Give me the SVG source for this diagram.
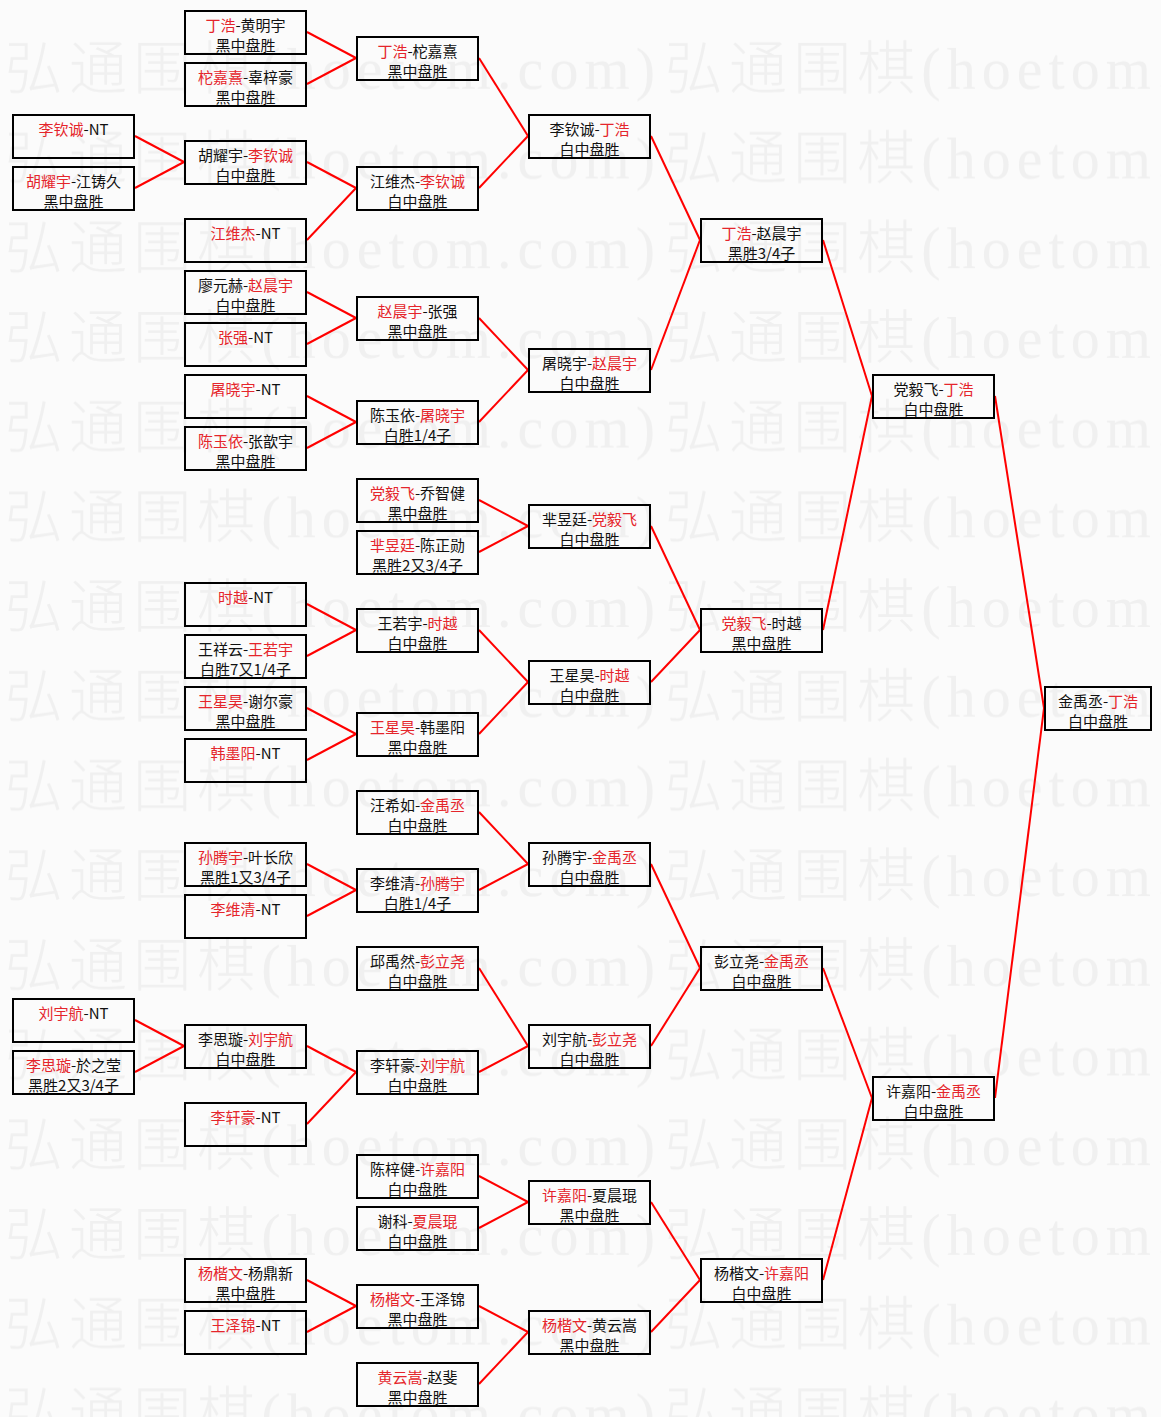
<svg xmlns="http://www.w3.org/2000/svg" width="1161" height="1417" viewBox="0 0 1161 1417">
<style>
.w{font-family:"Liberation Serif","Noto Sans CJK SC",serif;font-size:58px;fill:#f0f0f0;font-weight:300}
.b{fill:none;stroke:#000;stroke-width:2}
.t{font-family:"Noto Sans CJK SC","Liberation Sans",sans-serif;font-size:15px;fill:#111;text-anchor:middle}
.r{fill:#e5252b}
.c line{stroke:#f00;stroke-width:2}
</style>
<defs>
<pattern id="wm" patternUnits="userSpaceOnUse" x="0" y="15" width="660" height="89.7">
<rect x="0" y="0" width="660" height="89.7" fill="#fbfbfb"/>
<text class="w" x="5" y="74" textLength="650" lengthAdjust="spacing">弘通围棋(hoetom.com)</text>
</pattern>
</defs>
<rect x="0" y="0" width="1161" height="1417" fill="#fbfbfb"/>
<rect id="watermark" x="0" y="15" width="1161" height="1402" fill="url(#wm)"/>
<g id="connectors" class="c">
<line x1="307" y1="32" x2="356" y2="58"/>
<line x1="307" y1="84" x2="356" y2="58"/>
<line x1="135" y1="136" x2="184" y2="162"/>
<line x1="135" y1="188" x2="184" y2="162"/>
<line x1="307" y1="162" x2="356" y2="188"/>
<line x1="307" y1="240" x2="356" y2="188"/>
<line x1="479" y1="58" x2="528" y2="136"/>
<line x1="479" y1="188" x2="528" y2="136"/>
<line x1="307" y1="292" x2="356" y2="318"/>
<line x1="307" y1="344" x2="356" y2="318"/>
<line x1="307" y1="396" x2="356" y2="422"/>
<line x1="307" y1="448" x2="356" y2="422"/>
<line x1="479" y1="318" x2="528" y2="370"/>
<line x1="479" y1="422" x2="528" y2="370"/>
<line x1="651" y1="136" x2="700" y2="240"/>
<line x1="651" y1="370" x2="700" y2="240"/>
<line x1="479" y1="500" x2="528" y2="526"/>
<line x1="479" y1="552" x2="528" y2="526"/>
<line x1="307" y1="604" x2="356" y2="630"/>
<line x1="307" y1="656" x2="356" y2="630"/>
<line x1="307" y1="708" x2="356" y2="734"/>
<line x1="307" y1="760" x2="356" y2="734"/>
<line x1="479" y1="630" x2="528" y2="682"/>
<line x1="479" y1="734" x2="528" y2="682"/>
<line x1="651" y1="526" x2="700" y2="630"/>
<line x1="651" y1="682" x2="700" y2="630"/>
<line x1="823" y1="240" x2="872" y2="396"/>
<line x1="823" y1="630" x2="872" y2="396"/>
<line x1="307" y1="864" x2="356" y2="890"/>
<line x1="307" y1="916" x2="356" y2="890"/>
<line x1="479" y1="812" x2="528" y2="864"/>
<line x1="479" y1="890" x2="528" y2="864"/>
<line x1="135" y1="1020" x2="184" y2="1046"/>
<line x1="135" y1="1072" x2="184" y2="1046"/>
<line x1="307" y1="1046" x2="356" y2="1072"/>
<line x1="307" y1="1124" x2="356" y2="1072"/>
<line x1="479" y1="968" x2="528" y2="1046"/>
<line x1="479" y1="1072" x2="528" y2="1046"/>
<line x1="651" y1="864" x2="700" y2="968"/>
<line x1="651" y1="1046" x2="700" y2="968"/>
<line x1="479" y1="1176" x2="528" y2="1202"/>
<line x1="479" y1="1228" x2="528" y2="1202"/>
<line x1="307" y1="1280" x2="356" y2="1306"/>
<line x1="307" y1="1332" x2="356" y2="1306"/>
<line x1="479" y1="1306" x2="528" y2="1332"/>
<line x1="479" y1="1384" x2="528" y2="1332"/>
<line x1="651" y1="1202" x2="700" y2="1280"/>
<line x1="651" y1="1332" x2="700" y2="1280"/>
<line x1="823" y1="968" x2="872" y2="1098"/>
<line x1="823" y1="1280" x2="872" y2="1098"/>
<line x1="995" y1="396" x2="1044" y2="708"/>
<line x1="995" y1="1098" x2="1044" y2="708"/>
</g>
<!-- column 0 -->
<g id="c0-n4"><rect class="b" x="13" y="115" width="121" height="43"/><text class="t" x="73.5" y="135"><tspan class="r">李钦诚</tspan>-NT</text></g>
<g id="c0-n6"><rect class="b" x="13" y="167" width="121" height="43"/><text class="t" x="73.5" y="187"><tspan class="r">胡耀宇</tspan>-江铸久</text><text class="t" x="73.5" y="207">黑中盘胜</text></g>
<g id="c0-n38"><rect class="b" x="13" y="999" width="121" height="43"/><text class="t" x="73.5" y="1019"><tspan class="r">刘宇航</tspan>-NT</text></g>
<g id="c0-n40"><rect class="b" x="13" y="1051" width="121" height="43"/><text class="t" x="73.5" y="1071"><tspan class="r">李思璇</tspan>-於之莹</text><text class="t" x="73.5" y="1091">黑胜2又3/4子</text></g>
<!-- column 1 -->
<g id="c1-n0"><rect class="b" x="185" y="11" width="121" height="43"/><text class="t" x="245.5" y="31"><tspan class="r">丁浩</tspan>-黄明宇</text><text class="t" x="245.5" y="51">黑中盘胜</text></g>
<g id="c1-n2"><rect class="b" x="185" y="63" width="121" height="43"/><text class="t" x="245.5" y="83"><tspan class="r">柁嘉熹</tspan>-辜梓豪</text><text class="t" x="245.5" y="103">黑中盘胜</text></g>
<g id="c1-n5"><rect class="b" x="185" y="141" width="121" height="43"/><text class="t" x="245.5" y="161">胡耀宇-<tspan class="r">李钦诚</tspan></text><text class="t" x="245.5" y="181">白中盘胜</text></g>
<g id="c1-n8"><rect class="b" x="185" y="219" width="121" height="43"/><text class="t" x="245.5" y="239"><tspan class="r">江维杰</tspan>-NT</text></g>
<g id="c1-n10"><rect class="b" x="185" y="271" width="121" height="43"/><text class="t" x="245.5" y="291">廖元赫-<tspan class="r">赵晨宇</tspan></text><text class="t" x="245.5" y="311">白中盘胜</text></g>
<g id="c1-n12"><rect class="b" x="185" y="323" width="121" height="43"/><text class="t" x="245.5" y="343"><tspan class="r">张强</tspan>-NT</text></g>
<g id="c1-n14"><rect class="b" x="185" y="375" width="121" height="43"/><text class="t" x="245.5" y="395"><tspan class="r">屠晓宇</tspan>-NT</text></g>
<g id="c1-n16"><rect class="b" x="185" y="427" width="121" height="43"/><text class="t" x="245.5" y="447"><tspan class="r">陈玉依</tspan>-张歆宇</text><text class="t" x="245.5" y="467">黑中盘胜</text></g>
<g id="c1-n22"><rect class="b" x="185" y="583" width="121" height="43"/><text class="t" x="245.5" y="603"><tspan class="r">时越</tspan>-NT</text></g>
<g id="c1-n24"><rect class="b" x="185" y="635" width="121" height="43"/><text class="t" x="245.5" y="655">王祥云-<tspan class="r">王若宇</tspan></text><text class="t" x="245.5" y="675">白胜7又1/4子</text></g>
<g id="c1-n26"><rect class="b" x="185" y="687" width="121" height="43"/><text class="t" x="245.5" y="707"><tspan class="r">王星昊</tspan>-谢尔豪</text><text class="t" x="245.5" y="727">黑中盘胜</text></g>
<g id="c1-n28"><rect class="b" x="185" y="739" width="121" height="43"/><text class="t" x="245.5" y="759"><tspan class="r">韩墨阳</tspan>-NT</text></g>
<g id="c1-n32"><rect class="b" x="185" y="843" width="121" height="43"/><text class="t" x="245.5" y="863"><tspan class="r">孙腾宇</tspan>-叶长欣</text><text class="t" x="245.5" y="883">黑胜1又3/4子</text></g>
<g id="c1-n34"><rect class="b" x="185" y="895" width="121" height="43"/><text class="t" x="245.5" y="915"><tspan class="r">李维清</tspan>-NT</text></g>
<g id="c1-n39"><rect class="b" x="185" y="1025" width="121" height="43"/><text class="t" x="245.5" y="1045">李思璇-<tspan class="r">刘宇航</tspan></text><text class="t" x="245.5" y="1065">白中盘胜</text></g>
<g id="c1-n42"><rect class="b" x="185" y="1103" width="121" height="43"/><text class="t" x="245.5" y="1123"><tspan class="r">李轩豪</tspan>-NT</text></g>
<g id="c1-n48"><rect class="b" x="185" y="1259" width="121" height="43"/><text class="t" x="245.5" y="1279"><tspan class="r">杨楷文</tspan>-杨鼎新</text><text class="t" x="245.5" y="1299">黑中盘胜</text></g>
<g id="c1-n50"><rect class="b" x="185" y="1311" width="121" height="43"/><text class="t" x="245.5" y="1331"><tspan class="r">王泽锦</tspan>-NT</text></g>
<!-- column 2 -->
<g id="c2-n1"><rect class="b" x="357" y="37" width="121" height="43"/><text class="t" x="417.5" y="57"><tspan class="r">丁浩</tspan>-柁嘉熹</text><text class="t" x="417.5" y="77">黑中盘胜</text></g>
<g id="c2-n6"><rect class="b" x="357" y="167" width="121" height="43"/><text class="t" x="417.5" y="187">江维杰-<tspan class="r">李钦诚</tspan></text><text class="t" x="417.5" y="207">白中盘胜</text></g>
<g id="c2-n11"><rect class="b" x="357" y="297" width="121" height="43"/><text class="t" x="417.5" y="317"><tspan class="r">赵晨宇</tspan>-张强</text><text class="t" x="417.5" y="337">黑中盘胜</text></g>
<g id="c2-n15"><rect class="b" x="357" y="401" width="121" height="43"/><text class="t" x="417.5" y="421">陈玉依-<tspan class="r">屠晓宇</tspan></text><text class="t" x="417.5" y="441">白胜1/4子</text></g>
<g id="c2-n18"><rect class="b" x="357" y="479" width="121" height="43"/><text class="t" x="417.5" y="499"><tspan class="r">党毅飞</tspan>-乔智健</text><text class="t" x="417.5" y="519">黑中盘胜</text></g>
<g id="c2-n20"><rect class="b" x="357" y="531" width="121" height="43"/><text class="t" x="417.5" y="551"><tspan class="r">芈昱廷</tspan>-陈正勋</text><text class="t" x="417.5" y="571">黑胜2又3/4子</text></g>
<g id="c2-n23"><rect class="b" x="357" y="609" width="121" height="43"/><text class="t" x="417.5" y="629">王若宇-<tspan class="r">时越</tspan></text><text class="t" x="417.5" y="649">白中盘胜</text></g>
<g id="c2-n27"><rect class="b" x="357" y="713" width="121" height="43"/><text class="t" x="417.5" y="733"><tspan class="r">王星昊</tspan>-韩墨阳</text><text class="t" x="417.5" y="753">黑中盘胜</text></g>
<g id="c2-n30"><rect class="b" x="357" y="791" width="121" height="43"/><text class="t" x="417.5" y="811">汪希如-<tspan class="r">金禹丞</tspan></text><text class="t" x="417.5" y="831">白中盘胜</text></g>
<g id="c2-n33"><rect class="b" x="357" y="869" width="121" height="43"/><text class="t" x="417.5" y="889">李维清-<tspan class="r">孙腾宇</tspan></text><text class="t" x="417.5" y="909">白胜1/4子</text></g>
<g id="c2-n36"><rect class="b" x="357" y="947" width="121" height="43"/><text class="t" x="417.5" y="967">邱禹然-<tspan class="r">彭立尧</tspan></text><text class="t" x="417.5" y="987">白中盘胜</text></g>
<g id="c2-n40"><rect class="b" x="357" y="1051" width="121" height="43"/><text class="t" x="417.5" y="1071">李轩豪-<tspan class="r">刘宇航</tspan></text><text class="t" x="417.5" y="1091">白中盘胜</text></g>
<g id="c2-n44"><rect class="b" x="357" y="1155" width="121" height="43"/><text class="t" x="417.5" y="1175">陈梓健-<tspan class="r">许嘉阳</tspan></text><text class="t" x="417.5" y="1195">白中盘胜</text></g>
<g id="c2-n46"><rect class="b" x="357" y="1207" width="121" height="43"/><text class="t" x="417.5" y="1227">谢科-<tspan class="r">夏晨琨</tspan></text><text class="t" x="417.5" y="1247">白中盘胜</text></g>
<g id="c2-n49"><rect class="b" x="357" y="1285" width="121" height="43"/><text class="t" x="417.5" y="1305"><tspan class="r">杨楷文</tspan>-王泽锦</text><text class="t" x="417.5" y="1325">黑中盘胜</text></g>
<g id="c2-n52"><rect class="b" x="357" y="1363" width="121" height="43"/><text class="t" x="417.5" y="1383"><tspan class="r">黄云嵩</tspan>-赵斐</text><text class="t" x="417.5" y="1403">黑中盘胜</text></g>
<!-- column 3 -->
<g id="c3-n4"><rect class="b" x="529" y="115" width="121" height="43"/><text class="t" x="589.5" y="135">李钦诚-<tspan class="r">丁浩</tspan></text><text class="t" x="589.5" y="155">白中盘胜</text></g>
<g id="c3-n13"><rect class="b" x="529" y="349" width="121" height="43"/><text class="t" x="589.5" y="369">屠晓宇-<tspan class="r">赵晨宇</tspan></text><text class="t" x="589.5" y="389">白中盘胜</text></g>
<g id="c3-n19"><rect class="b" x="529" y="505" width="121" height="43"/><text class="t" x="589.5" y="525">芈昱廷-<tspan class="r">党毅飞</tspan></text><text class="t" x="589.5" y="545">白中盘胜</text></g>
<g id="c3-n25"><rect class="b" x="529" y="661" width="121" height="43"/><text class="t" x="589.5" y="681">王星昊-<tspan class="r">时越</tspan></text><text class="t" x="589.5" y="701">白中盘胜</text></g>
<g id="c3-n32"><rect class="b" x="529" y="843" width="121" height="43"/><text class="t" x="589.5" y="863">孙腾宇-<tspan class="r">金禹丞</tspan></text><text class="t" x="589.5" y="883">白中盘胜</text></g>
<g id="c3-n39"><rect class="b" x="529" y="1025" width="121" height="43"/><text class="t" x="589.5" y="1045">刘宇航-<tspan class="r">彭立尧</tspan></text><text class="t" x="589.5" y="1065">白中盘胜</text></g>
<g id="c3-n45"><rect class="b" x="529" y="1181" width="121" height="43"/><text class="t" x="589.5" y="1201"><tspan class="r">许嘉阳</tspan>-夏晨琨</text><text class="t" x="589.5" y="1221">黑中盘胜</text></g>
<g id="c3-n50"><rect class="b" x="529" y="1311" width="121" height="43"/><text class="t" x="589.5" y="1331"><tspan class="r">杨楷文</tspan>-黄云嵩</text><text class="t" x="589.5" y="1351">黑中盘胜</text></g>
<!-- column 4 -->
<g id="c4-n8"><rect class="b" x="701" y="219" width="121" height="43"/><text class="t" x="761.5" y="239"><tspan class="r">丁浩</tspan>-赵晨宇</text><text class="t" x="761.5" y="259">黑胜3/4子</text></g>
<g id="c4-n23"><rect class="b" x="701" y="609" width="121" height="43"/><text class="t" x="761.5" y="629"><tspan class="r">党毅飞</tspan>-时越</text><text class="t" x="761.5" y="649">黑中盘胜</text></g>
<g id="c4-n36"><rect class="b" x="701" y="947" width="121" height="43"/><text class="t" x="761.5" y="967">彭立尧-<tspan class="r">金禹丞</tspan></text><text class="t" x="761.5" y="987">白中盘胜</text></g>
<g id="c4-n48"><rect class="b" x="701" y="1259" width="121" height="43"/><text class="t" x="761.5" y="1279">杨楷文-<tspan class="r">许嘉阳</tspan></text><text class="t" x="761.5" y="1299">白中盘胜</text></g>
<!-- column 5 -->
<g id="c5-n14"><rect class="b" x="873" y="375" width="121" height="43"/><text class="t" x="933.5" y="395">党毅飞-<tspan class="r">丁浩</tspan></text><text class="t" x="933.5" y="415">白中盘胜</text></g>
<g id="c5-n41"><rect class="b" x="873" y="1077" width="121" height="43"/><text class="t" x="933.5" y="1097">许嘉阳-<tspan class="r">金禹丞</tspan></text><text class="t" x="933.5" y="1117">白中盘胜</text></g>
<!-- column 6 -->
<g id="c6-n26"><rect class="b" x="1045" y="687" width="106" height="43"/><text class="t" x="1098" y="707">金禹丞-<tspan class="r">丁浩</tspan></text><text class="t" x="1098" y="727">白中盘胜</text></g>
</svg>
